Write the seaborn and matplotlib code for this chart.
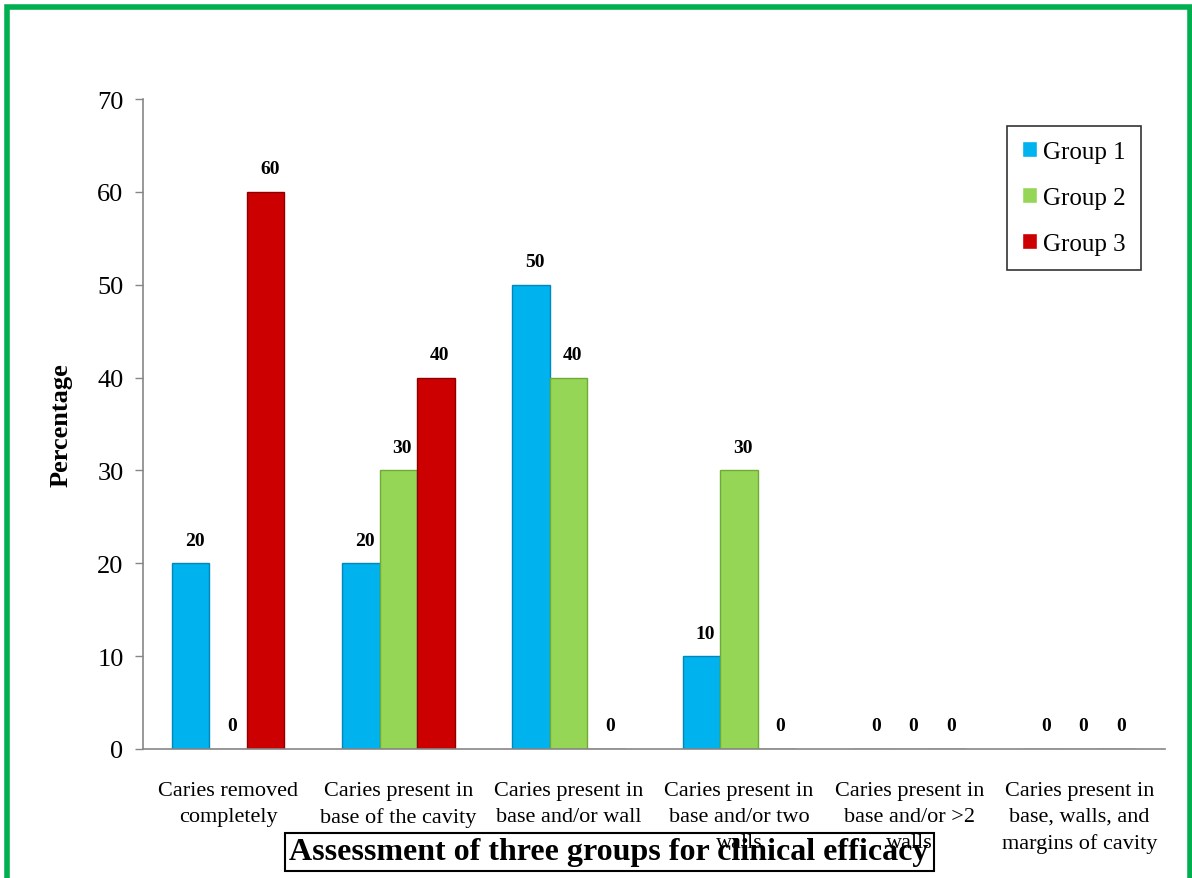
import matplotlib
matplotlib.use("Agg")
import matplotlib.pyplot as plt
import seaborn as sns
import pandas as pd
from matplotlib.patches import Rectangle

categories = [
    "Caries removed\ncompletely",
    "Caries present in\nbase of the cavity",
    "Caries present in\nbase and/or wall",
    "Caries present in\nbase and/or two\nwalls",
    "Caries present in\nbase and/or >2\nwalls",
    "Caries present in\nbase, walls, and\nmargins of cavity",
]
groups = ["Group 1", "Group 2", "Group 3"]
group1 = [20, 20, 50, 10, 0, 0]
group2 = [0, 30, 40, 30, 0, 0]
group3 = [60, 40, 0, 0, 0, 0]
yticks = [0, 10, 20, 30, 40, 50, 60, 70]

colors = ["#00B2EE", "#96D656", "#CC0000"]
edge_colors = ["#0088BB", "#6FAA35", "#8E0000"]

df = pd.DataFrame({
    "category": categories * 3,
    "group": [groups[0]] * 6 + [groups[1]] * 6 + [groups[2]] * 6,
    "value": group1 + group2 + group3,
})

sns.set_theme(style="white")
plt.rcParams["font.family"] = ["Liberation Serif", "DejaVu Serif"]
plt.rcParams["text.color"] = "black"
plt.rcParams["axes.labelcolor"] = "black"
plt.rcParams["xtick.color"] = "black"
plt.rcParams["ytick.color"] = "black"

fig = plt.figure(figsize=(11.92, 8.79), dpi=100)
ax = fig.add_axes([0.120, 0.1468, 0.857, 0.7394])

sns.barplot(data=df, x="category", y="value", hue="group", order=categories,
            hue_order=groups, palette=colors, width=0.66, gap=0,
            saturation=1, ax=ax, legend=True)

# darker outline on each bar, per group
for cont, ec in zip(ax.containers, edge_colors):
    for bar in cont:
        bar.set_edgecolor(ec)
        bar.set_linewidth(1.0)

# value labels above each bar (including zeros)
for cont in ax.containers:
    for bar in cont:
        h = bar.get_height()
        ax.annotate(f"{h:.0f}", (bar.get_x() + bar.get_width() / 2, h),
                    xytext=(4, 23), textcoords="offset pixels",
                    ha="center", va="center", fontsize=14,
                    fontweight="bold", color="black")

ax.set_ylim(0, 70)
ax.set_yticks(yticks)
ax.set_xlim(-0.5, len(categories) - 0.5)
ax.tick_params(axis="y", which="both", left=True, length=6, width=1,
               color="#868686", labelcolor="black", labelsize=19, pad=8,
               direction="out")
ax.tick_params(axis="x", bottom=False, labelsize=16, labelcolor="black", pad=17)
for lbl in ax.get_xticklabels():
    lbl.set_linespacing(1.5)
ax.set_xlabel("")
ax.set_ylabel("Percentage", fontsize=19, fontweight="bold", labelpad=18,
              color="black")

for side in ["top", "right"]:
    ax.spines[side].set_visible(False)
for side in ["left", "bottom"]:
    ax.spines[side].set_color("#868686")
    ax.spines[side].set_linewidth(1.2)

handles, labels = ax.get_legend_handles_labels()
ax.legend_.remove()
leg = fig.legend(handles, labels, loc="upper left",
                 bbox_to_anchor=(0.845, 0.8555), fontsize=18,
                 frameon=True, fancybox=False, edgecolor="black",
                 handlelength=0.6, handleheight=0.6, handletextpad=0.25,
                 labelspacing=0.95, borderpad=0.6, borderaxespad=0)
leg.get_frame().set_linewidth(1.2)
for t in leg.get_texts():
    t.set_color("black")

fig.text(0.511, 0.0296, "Assessment of three groups for clinical efficacy",
         ha="center", va="center", fontsize=23, fontweight="bold",
         color="black",
         bbox=dict(boxstyle="square,pad=0.15", facecolor="none",
                   edgecolor="black", linewidth=1.5))

# green page frame
fig.patches.append(Rectangle((7 / 1192, -0.05), 1183 / 1192, 1.05 - 8 / 879,
                             transform=fig.transFigure, fill=False,
                             edgecolor="#00B050", linewidth=4))

fig.savefig("out.png", dpi=100)
